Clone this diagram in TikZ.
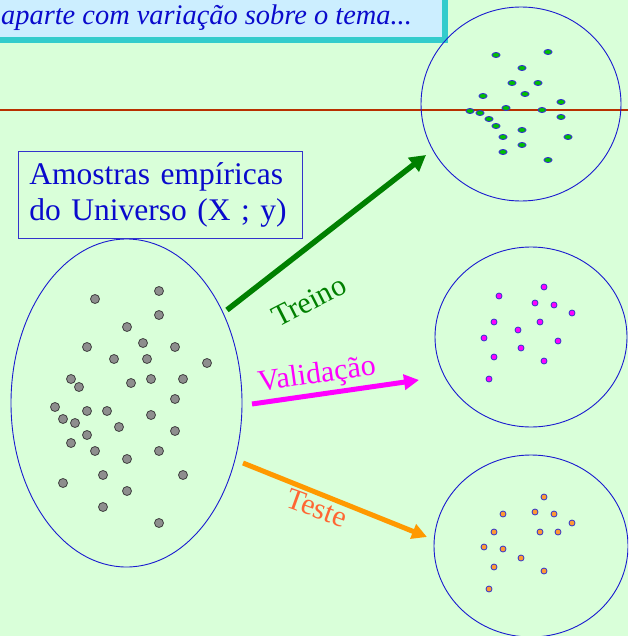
\documentclass[tikz,border=0pt]{standalone}
\usepackage{fontspec}
\setmainfont{LiberationSerif}[Extension=.ttf, UprightFont=*-Regular,
  ItalicFont=*-Italic, BoldFont=*-Bold, BoldItalicFont=*-BoldItalic]
\usetikzlibrary{arrows.meta,shapes.geometric}
\definecolor{fundo}{HTML}{D9FFD9}
\definecolor{azulTitulo}{HTML}{CCEEFF}
\definecolor{turquesa}{HTML}{33CCCC}
\definecolor{azulTexto}{HTML}{0A0ACC}
\definecolor{azulBorda}{HTML}{3333CC}
\definecolor{azulElipse}{HTML}{1A1AD0}
\definecolor{vermelho}{HTML}{B83000}
\definecolor{verde}{HTML}{008000}
\definecolor{magentaRGB}{HTML}{FF00FF}
\definecolor{laranja}{HTML}{FF9900}
\definecolor{laranjaPonto}{HTML}{FF9933}
\definecolor{laranjaTexto}{HTML}{FF6633}
\definecolor{verdePonto}{HTML}{00C000}
\definecolor{cinza}{HTML}{8E8E8E}
\tikzset{
  conjunto/.style={ellipse, draw=azulElipse, line width=0.9pt, inner sep=0pt},
  pontoCinza/.style={circle, draw=black!75, fill=cinza, line width=0.8pt,
    minimum size=9pt, inner sep=0pt},
  pontoVerde/.style={ellipse, draw=azulBorda, fill=verdePonto, line width=0.9pt,
    minimum width=8pt, minimum height=5pt, inner sep=0pt},
  pontoMag/.style={circle, draw=azulBorda, fill=magentaRGB, line width=0.8pt,
    minimum size=6pt, inner sep=0pt},
  pontoLar/.style={circle, draw=azulBorda, fill=laranjaPonto, line width=0.8pt,
    minimum size=6pt, inner sep=0pt},
  rotulo/.style={font=\fontsize{30}{32}\selectfont, inner sep=0pt},
  seta/.style={line width=5pt, -{Triangle[length=15pt,width=15pt]}}
}
\begin{document}
\begin{tikzpicture}[x=1pt, y=-1pt]
  \useasboundingbox (0,0) rectangle (628,636);
  \clip (0,0) rectangle (628,636);
  \fill[fundo] (0,0) rectangle (628,636);
  % faixa do titulo
  \draw[fill=azulTitulo, draw=turquesa, line width=6pt] (-20,-20) rectangle (445,40);
  \node[anchor=base west, text=azulTexto, inner sep=0pt,
    font=\fontsize{28.4}{30}\selectfont\itshape] (titulo) at (1,25)
    {aparte com variação sobre o tema...};
  \draw[vermelho, line width=1.2pt] (0,110) -- (628,110);
  % conjuntos
  \node[conjunto, minimum width=231pt, minimum height=328pt] (universo) at (126.5,403) {};
  \node[conjunto, minimum width=200pt, minimum height=194pt] (treino) at (521,104) {};
  \node[conjunto, minimum width=192pt, minimum height=180pt] (validacao) at (531,337) {};
  \node[conjunto, minimum width=194pt, minimum height=182pt] (teste) at (531,546) {};
  \node[draw=azulBorda, line width=0.8pt, anchor=north west, minimum width=284pt,
    minimum height=87pt, inner xsep=11pt, text width=262pt, align=left, text=azulTexto,
    font=\fontsize{31.5}{36}\selectfont] (amostras) at (18,151)
    {Amostras empíricas\\do Universo (X ; y)};
  % pontos
  \foreach \x/\y [count=\i] in {95/299, 159/291, 159/315, 127/327, 143/343, 87/347,
      175/347, 114/359, 147/359, 207/363, 71/379, 79/387, 131/383, 151/379, 183/379,
      175/399, 55/407, 87/411, 107/411, 63/419, 75/423, 151/415, 119/427, 175/431,
      87/435, 71/443, 95/451, 159/451, 127/459, 103/475, 183/475, 63/483, 127/491,
      103/507, 159/523}
    \node[pontoCinza] (u\i) at (\x,\y) {};
  \foreach \x/\y [count=\i] in {496/55, 548/52, 522/68, 512/83, 538/83, 483/96,
      525/94, 561/102, 506/108, 542/110, 470/111, 480/113, 489/119, 561/117, 496/126,
      522/130, 503/137, 568/137, 522/145, 503/152, 548/160}
    \node[pontoVerde] (a\i) at (\x,\y) {};
  \foreach \x/\y [count=\i] in {544/287, 499/296, 535/303, 554/305, 572/313, 494/322,
      540/322, 518/330, 484/338, 558/341, 521/348, 494/357, 544/361, 489/379}
    \node[pontoMag] (v\i) at (\x,\y) {};
  \foreach \x/\y [count=\i] in {544/497, 503/514, 535/512, 554/514, 572/523, 494/532,
      540/532, 558/532, 484/547, 503/549, 521/558, 494/567, 544/571, 489/589}
    \node[pontoLar] (t\i) at (\x,\y) {};
  % setas
  \coordinate (treinoIni) at (227,310);
  \coordinate (treinoFim) at (426,155);
  \coordinate (validIni) at (252,404);
  \coordinate (validFim) at (419,380);
  \coordinate (testeIni) at (243,463);
  \coordinate (testeFim) at (427,537);
  \draw[seta, verde, line width=5.5pt, -{Triangle[length=16pt,width=17pt]}]
    (treinoIni) -- (treinoFim);
  \draw[seta, magentaRGB] (validIni) -- (validFim);
  \draw[seta, laranja] (testeIni) -- (testeFim);
  \node[rotulo, text=verde, rotate=27] (lblTreino) at (309,301) {Treino};
  \node[rotulo, text=magentaRGB, rotate=8] (lblValid) at (317,376) {Validação};
  \node[rotulo, text=laranjaTexto, rotate=-20] (lblTeste) at (317,508) {Teste};
\end{tikzpicture}
\end{document}
